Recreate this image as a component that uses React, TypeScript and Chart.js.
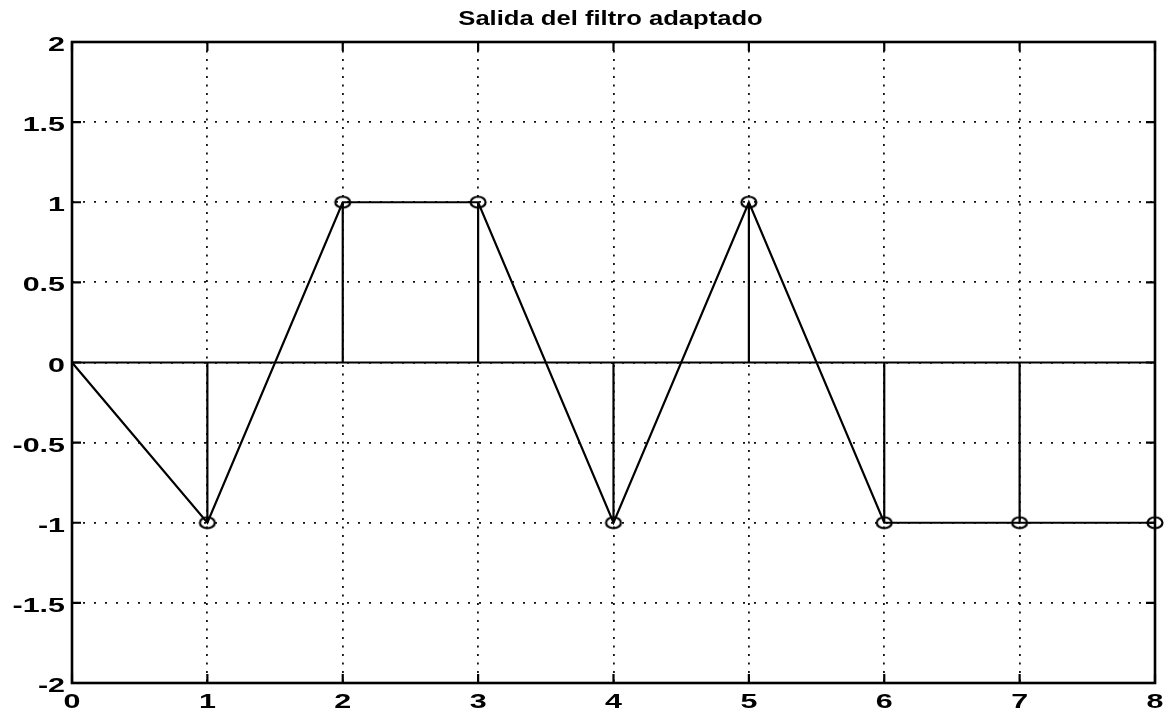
import { useEffect, useRef } from "react";
import { Chart, registerables } from "chart.js";

Chart.register(...registerables);

const TITLE = "Salida del filtro adaptado";
const SAMPLE_N = [0, 1, 2, 3, 4, 5, 6, 7, 8];
const OUTPUT = [0, -1, 1, 1, -1, 1, -1, -1, -1];
const X_TICKS = [0, 1, 2, 3, 4, 5, 6, 7, 8];
const Y_TICKS = [-2, -1.5, -1, -0.5, 0, 0.5, 1, 1.5, 2];

const FONT = '"Liberation Sans", Arial, Helvetica, sans-serif';

function makeMarker(): HTMLCanvasElement {
  const c = document.createElement("canvas");
  c.width = 22;
  c.height = 18;
  const g = c.getContext("2d")!;
  g.strokeStyle = "#000";
  g.lineWidth = 2.2;
  g.beginPath();
  g.ellipse(11, 9, 7.5, 5.5, 0, 0, Math.PI * 2);
  g.stroke();
  return c;
}

const framePlugin = {
  id: "matlabFrame",
  beforeDatasetsDraw(chart: any) {
    const { ctx, chartArea: a, scales } = chart;
    const xs = scales.x;
    const ys = scales.y;
    ctx.save();
    ctx.strokeStyle = "#000";
    ctx.lineWidth = 2.2;
    ctx.beginPath();
    for (const t of xs.ticks) {
      const px = xs.getPixelForValue(t.value);
      ctx.moveTo(px, a.bottom);
      ctx.lineTo(px, a.bottom - 9);
      ctx.moveTo(px, a.top);
      ctx.lineTo(px, a.top + 9);
    }
    for (const t of ys.ticks) {
      const py = ys.getPixelForValue(t.value);
      ctx.moveTo(a.left, py);
      ctx.lineTo(a.left + 9, py);
      ctx.moveTo(a.right, py);
      ctx.lineTo(a.right - 9, py);
    }
    ctx.stroke();
    ctx.lineWidth = 2.6;
    ctx.strokeRect(a.left, a.top, a.right - a.left, a.bottom - a.top);
    ctx.restore();
  },
  afterDraw(chart: any) {
    const { ctx, chartArea: a, scales } = chart;
    const xs = scales.x;
    const ys = scales.y;
    ctx.save();
    ctx.fillStyle = "#000";
    ctx.font = `bold 21px ${FONT}`;
    ctx.textBaseline = "alphabetic";
    // y tick labels
    ctx.textAlign = "right";
    for (const t of ys.ticks) {
      const py = ys.getPixelForValue(t.value);
      ctx.save();
      ctx.translate(a.left - 7, py + 9);
      ctx.scale(1.45, 1);
      ctx.fillText(String(t.value), 0, 0);
      ctx.restore();
    }
    // x tick labels
    ctx.textAlign = "center";
    for (const t of xs.ticks) {
      const px = xs.getPixelForValue(t.value);
      ctx.save();
      ctx.translate(px, a.bottom + 25);
      ctx.scale(1.45, 1);
      ctx.fillText(String(t.value), 0, 0);
      ctx.restore();
    }
    // title
    ctx.save();
    ctx.font = `bold 20px ${FONT}`;
    ctx.translate((a.left + a.right) / 2 - 3, 25);
    ctx.scale(1.28, 1);
    ctx.fillText(TITLE, 0, 0);
    ctx.restore();
    ctx.restore();
  },
};

export default function App() {
  const ref = useRef<HTMLCanvasElement | null>(null);

  useEffect(() => {
    if (!ref.current) return;
    const marker = makeMarker();
    const points = SAMPLE_N.map((n, i) => ({ x: n, y: OUTPUT[i] }));
    const stems = SAMPLE_N.flatMap((n, i) => [
      { x: n, y: 0 },
      { x: n, y: OUTPUT[i] },
      { x: n, y: null as any },
    ]);
    const baseline = [
      { x: SAMPLE_N[0], y: 0 },
      { x: SAMPLE_N[SAMPLE_N.length - 1], y: 0 },
    ];

    const chart = new Chart(ref.current, {
      type: "line",
      data: {
        datasets: [
          {
            data: points,
            borderColor: "#000",
            borderWidth: 2.2,
            pointStyle: marker as any,
            pointRadius: (c: any) => (c.dataIndex === 0 ? 0 : 6),
            pointHoverRadius: 0,
            tension: 0,
            clip: false as any,
          },
          {
            data: stems,
            borderColor: "#000",
            borderWidth: 2.2,
            pointRadius: 0,
            spanGaps: false,
            tension: 0,
          },
          {
            data: baseline,
            borderColor: "#000",
            borderWidth: 2,
            pointRadius: 0,
            tension: 0,
          },
        ],
      },
      options: {
        responsive: false,
        animation: false,
        devicePixelRatio: 1,
        layout: { padding: { top: 42, right: 14, left: 0, bottom: 0 } },
        plugins: {
          legend: { display: false },
          title: { display: false },
          tooltip: { enabled: false },
        },
        events: [],
        scales: {
          x: {
            type: "linear",
            min: X_TICKS[0],
            max: X_TICKS[X_TICKS.length - 1],
            afterBuildTicks: (s: any) => {
              s.ticks = X_TICKS.map((v) => ({ value: v }));
            },
            afterFit: (s: any) => {
              s.height = 36;
            },
            ticks: { display: false },
            grid: { color: "#111", lineWidth: 1.8, drawTicks: false },
            border: { display: false, dash: [2, 6.5] },
          },
          y: {
            type: "linear",
            min: Y_TICKS[0],
            max: Y_TICKS[Y_TICKS.length - 1],
            afterBuildTicks: (s: any) => {
              s.ticks = Y_TICKS.map((v) => ({ value: v }));
            },
            afterFit: (s: any) => {
              s.width = 72;
            },
            ticks: { display: false },
            grid: { color: "#111", lineWidth: 1.8, drawTicks: false },
            border: { display: false, dash: [2, 9] },
          },
        },
      },
      plugins: [framePlugin],
    });
    return () => chart.destroy();
  }, []);

  return (
    <div style={{ position: "fixed", left: 0, top: 0, width: 1169, height: 719, background: "#fff" }}>
      <canvas ref={ref} width={1169} height={719} />
    </div>
  );
}
